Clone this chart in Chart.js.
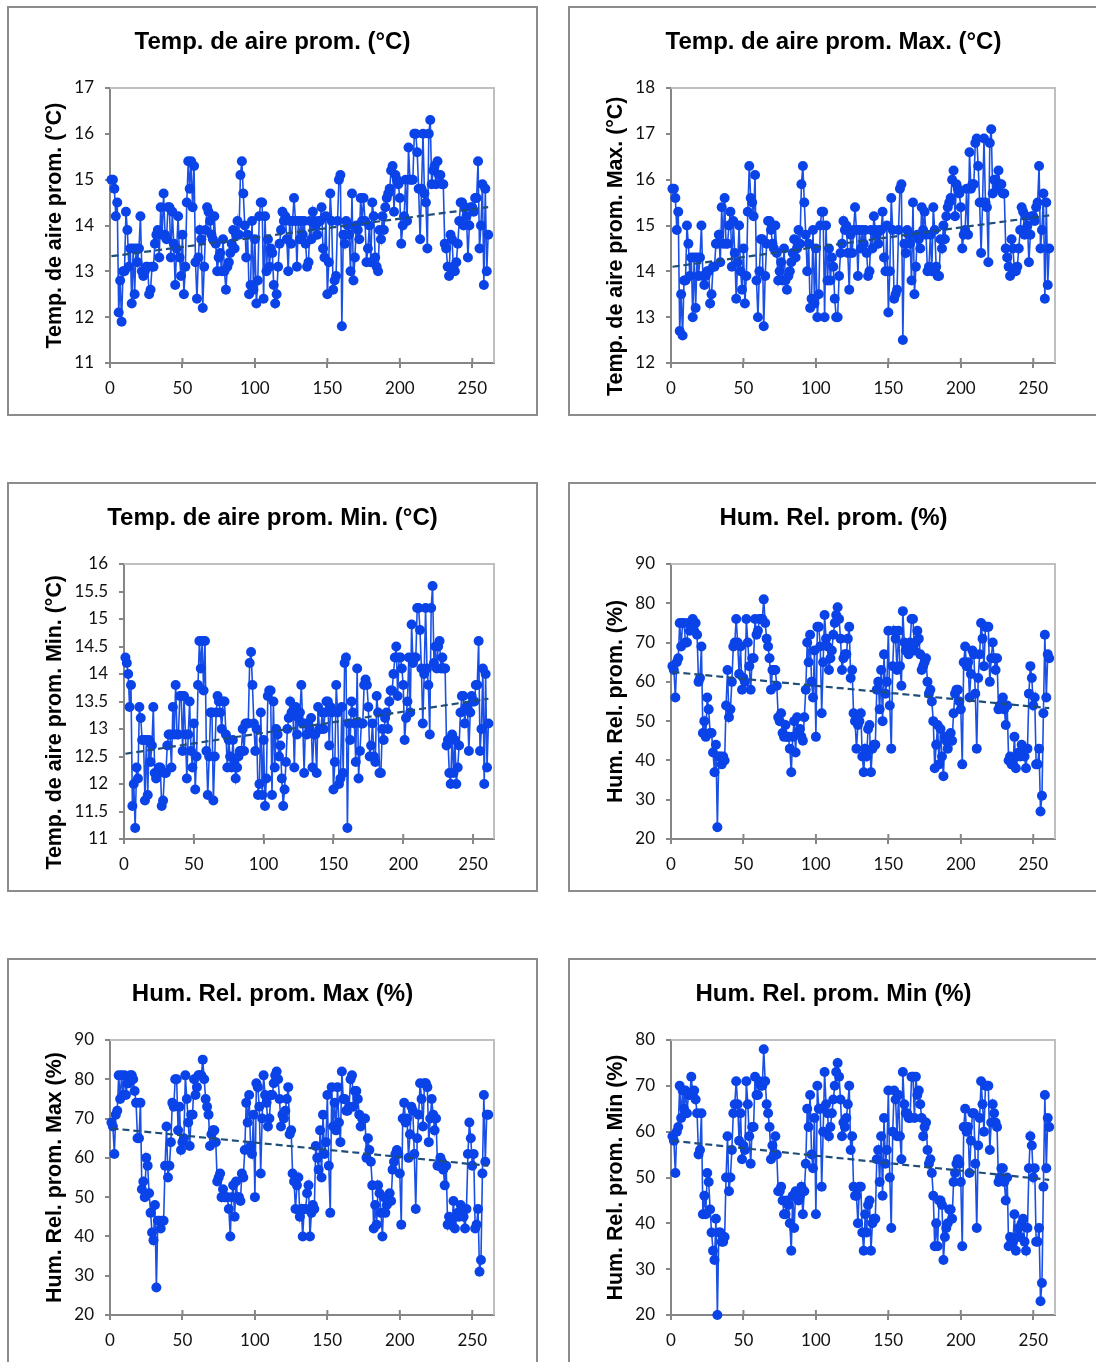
<!DOCTYPE html>
<html><head><meta charset="utf-8">
<style>
html,body{margin:0;padding:0;background:#fff;width:1096px;height:1362px;overflow:hidden}
.p{position:absolute;width:531px;height:410px;box-sizing:border-box;border:2px solid #8c8c8c;background:#fff}
.p canvas{position:absolute;left:-1px;top:-1px}
</style>
<script src="https://cdn.jsdelivr.net/npm/chart.js@4/dist/chart.umd.min.js"></script>
</head><body>
<div class="p" style="left:7px;top:6px"><canvas id="c0" width="529" height="408"></canvas></div>
<div class="p" style="left:568px;top:6px"><canvas id="c1" width="529" height="408"></canvas></div>
<div class="p" style="left:7px;top:482px"><canvas id="c2" width="529" height="408"></canvas></div>
<div class="p" style="left:568px;top:482px"><canvas id="c3" width="529" height="408"></canvas></div>
<div class="p" style="left:7px;top:958px"><canvas id="c4" width="529" height="408"></canvas></div>
<div class="p" style="left:568px;top:958px"><canvas id="c5" width="529" height="408"></canvas></div>
<script>
const tempMean=[15.0,15.0,14.8,14.2,14.5,12.1,12.8,11.9,13.0,13.0,
14.3,13.9,13.1,13.5,12.3,13.5,12.5,13.5,13.2,13.5,
14.2,13.0,12.9,13.0,13.1,13.1,12.5,12.6,13.1,13.1,
13.6,13.8,13.9,13.3,14.4,13.8,14.7,13.8,13.7,14.4,
14.4,13.3,14.3,13.6,12.7,13.5,14.2,13.3,12.9,13.8,
12.5,13.1,14.5,15.4,14.8,15.4,14.4,15.3,13.2,12.4,
13.3,13.9,13.7,12.2,13.1,13.9,14.4,14.3,14.1,13.8,
13.7,14.2,13.6,13.0,13.3,13.4,13.0,13.7,13.0,12.6,
13.1,13.2,13.4,13.6,13.9,13.5,13.8,14.1,13.8,15.1,
15.4,14.7,14.0,13.3,13.8,12.5,12.7,14.1,12.6,13.7,
12.3,12.8,14.2,14.5,14.5,12.4,14.2,13.0,13.7,13.1,
13.5,13.4,12.7,12.3,12.5,13.1,13.6,13.9,14.3,14.1,
14.2,13.7,13.0,14.1,13.6,14.1,14.6,14.1,13.1,14.1,
13.7,14.1,13.8,14.1,13.6,13.1,13.2,14.1,13.7,14.3,
14.1,14.0,13.8,14.1,14.1,14.4,13.5,13.3,14.2,12.5,
13.2,14.7,14.1,12.6,12.8,12.9,14.1,15.0,15.1,11.8,
13.8,13.6,14.1,14.0,13.8,13.0,14.7,12.8,13.3,14.0,
13.9,13.7,14.6,14.1,14.6,14.1,13.2,13.5,14.0,13.2,
14.5,14.2,13.3,13.1,13.0,13.9,13.7,14.2,13.9,14.4,
14.6,14.7,14.8,15.2,15.3,14.3,15.1,15.0,14.9,14.6,
13.6,14.0,14.2,15.0,14.1,15.7,15.0,15.0,15.0,16.0,
16.0,15.6,14.8,13.7,14.8,16.0,14.7,14.5,13.5,16.0,
16.3,14.9,15.2,15.3,14.9,15.4,15.1,15.1,14.9,14.9,
13.6,13.5,13.1,12.9,13.8,13.7,13.1,13.0,13.2,13.6,
14.1,14.5,14.5,14.0,14.4,14.2,13.3,14.0,14.4,14.4,
14.3,14.6,14.6,15.4,13.5,14.0,14.9,12.7,14.8,13.0,13.8];
const tempMax=[15.8,15.8,15.6,14.9,15.3,12.7,13.5,12.6,13.8,13.8,
15.0,14.6,13.9,14.3,13.0,14.3,13.2,14.3,13.9,14.3,
15.0,13.9,13.7,13.9,14.0,14.0,13.3,13.5,14.1,14.1,
14.6,14.6,14.8,14.2,15.4,14.6,15.6,14.6,14.6,15.0,
15.3,14.1,15.1,14.4,13.4,14.2,15.0,14.0,13.6,14.5,
13.3,13.9,15.3,16.3,15.6,15.5,15.2,16.1,13.8,13.0,
14.0,14.7,14.7,12.8,13.9,14.6,15.1,15.1,14.9,14.6,
14.5,15.0,14.4,13.8,14.0,14.2,13.8,14.5,13.8,13.6,
13.9,14.0,14.2,14.4,14.7,14.3,14.5,14.9,14.6,15.9,
16.3,15.5,14.8,14.0,14.6,13.2,13.4,14.9,13.3,14.5,
13.0,13.5,15.0,15.3,15.3,13.0,15.0,13.8,14.5,13.8,
14.3,14.1,13.4,13.0,13.0,13.9,14.4,14.6,15.1,14.9,
15.0,14.4,13.6,14.8,14.4,14.9,15.4,14.9,13.9,14.9,
14.5,14.9,14.6,14.9,14.4,13.9,14.0,14.9,14.5,15.2,
14.9,14.8,14.6,14.9,14.9,15.3,14.3,14.0,15.0,13.1,
14.0,15.6,14.9,13.4,13.5,13.6,14.9,15.8,15.9,12.5,
14.6,14.4,14.9,14.8,14.6,13.8,15.5,13.5,14.1,14.8,
14.7,14.5,15.4,14.9,15.3,14.8,14.0,14.1,14.8,14.0,
15.4,14.9,14.1,13.9,13.9,14.7,14.5,15.0,14.7,15.2,
15.4,15.5,15.6,16.0,16.2,15.2,15.9,15.8,15.7,15.4,
14.5,14.8,14.9,15.8,14.8,16.6,15.8,15.9,15.9,16.8,
16.9,16.3,15.5,14.4,15.5,16.9,15.5,15.4,14.2,16.8,
17.1,15.7,16.0,16.0,15.8,16.2,15.9,15.9,15.7,15.7,
14.5,14.3,14.1,13.9,14.7,14.5,14.0,14.0,14.1,14.5,
14.9,15.4,15.3,14.8,15.2,15.0,14.2,14.8,15.2,15.2,
15.1,15.4,15.5,16.3,14.5,14.9,15.7,13.4,15.5,13.7,14.5];
const tempMin=[14.3,14.2,14.0,13.4,13.8,11.6,12.0,11.2,12.3,12.1,
13.4,13.2,12.8,12.8,11.7,12.8,11.8,12.8,12.4,12.7,
13.4,12.2,12.1,12.2,12.3,12.3,11.6,11.7,12.2,12.2,
12.7,12.9,12.9,12.3,13.4,12.9,13.8,12.9,12.9,13.6,
13.6,12.6,13.6,12.9,12.1,12.9,13.5,12.6,12.3,13.1,
11.9,12.5,13.8,14.6,14.1,14.6,13.7,14.6,12.6,11.8,
12.5,13.3,13.3,11.7,12.5,13.3,13.6,13.5,13.3,13.0,
13.5,13.5,12.9,12.3,12.8,12.5,12.3,12.8,12.4,12.1,
12.3,12.5,12.6,12.6,13.0,12.6,13.1,13.1,13.1,14.2,
14.4,13.8,13.1,12.6,13.0,11.8,12.0,13.3,11.8,12.8,
11.6,12.1,13.6,13.7,13.7,11.8,13.5,12.3,13.0,12.9,
12.5,12.7,12.1,11.6,11.9,12.4,13.0,13.2,13.5,13.3,
13.3,12.3,13.4,12.9,13.2,13.3,13.8,13.1,12.2,13.1,
12.9,13.1,13.0,13.2,12.3,12.9,12.9,12.2,13.4,13.0,
13.0,13.3,13.0,13.3,13.5,13.5,12.7,13.4,13.3,11.9,
12.4,13.8,13.3,12.0,12.1,13.4,12.2,14.2,14.3,11.2,
13.1,12.8,13.5,13.3,13.1,12.4,14.1,12.1,12.6,13.1,
13.1,13.8,13.9,13.8,13.4,12.5,12.7,13.1,12.5,12.4,
13.6,13.3,12.2,12.2,13.0,12.8,13.2,13.3,13.0,13.5,
13.7,13.7,14.0,14.3,14.5,13.6,14.3,14.3,14.1,13.8,
12.8,13.2,13.5,14.3,13.3,14.9,14.2,14.3,14.3,15.2,
15.2,14.8,14.1,13.1,14.0,15.2,14.1,13.8,12.9,15.2,
15.6,14.2,14.5,14.1,14.5,14.6,14.1,14.3,14.1,14.1,
12.7,12.8,12.2,12.0,12.9,12.2,12.8,12.0,12.3,12.7,
13.3,13.6,13.6,13.1,13.4,13.4,12.6,13.3,13.6,13.5,
13.5,13.8,13.8,14.6,12.6,13.0,14.1,12.0,14.0,12.3,13.1];
const humMean=[64,63,56,65,66,75,69,75,75,70,
70,75,73,75,76,73,75,72,60,61,
69,47,50,46,56,53,47,47,42,37,
44,23,41,41,39,41,40,54,63,51,
53,60,69,70,76,70,62,69,58,61,
60,76,70,64,58,66,66,76,72,73,
76,76,76,81,75,71,69,66,58,63,
63,63,59,51,50,52,47,46,49,46,
46,43,37,46,50,42,51,47,48,46,
45,51,58,70,65,72,60,56,68,46,
74,74,69,52,65,77,71,69,63,66,
68,72,75,77,79,76,71,63,66,67,
67,71,74,61,63,52,50,43,49,50,
52,41,37,43,41,48,49,37,43,44,
44,58,60,53,63,50,67,57,60,73,
54,43,64,73,71,63,73,64,59,78,
70,68,68,67,70,76,76,68,70,73,
71,67,63,64,65,66,60,57,58,55,
50,38,44,49,39,48,41,36,46,45,
43,45,47,45,52,57,58,58,55,53,
39,65,69,64,65,56,62,68,67,57,
43,61,67,75,71,64,74,74,74,60,
66,70,66,63,66,53,54,54,56,53,
49,54,40,41,39,39,46,38,41,42,
41,44,42,41,38,43,57,64,61,54,
56,39,39,43,27,31,52,72,56,67,66];
const humMax=[69,68,61,71,72,81,75,81,76,81,
76,79,79,81,81,80,77,74,65,65,
74,52,54,50,60,58,51,46,41,39,
48,27,44,44,42,44,44,58,68,55,
58,64,74,73,80,80,67,73,62,64,
65,81,75,69,63,71,71,80,76,78,
81,81,81,85,80,75,73,71,63,66,
67,67,64,54,55,56,50,52,50,50,
50,47,40,50,53,45,54,50,50,49,
56,55,62,74,69,76,63,61,71,50,
79,78,73,56,70,81,76,74,68,70,
76,76,79,81,82,80,75,68,71,70,
72,75,78,66,67,56,54,47,53,55,
45,47,40,47,47,51,53,40,46,48,
47,63,60,57,67,55,71,61,64,76,
58,46,78,68,74,67,78,69,64,82,
75,75,72,72,73,80,81,73,77,77,
75,71,68,70,70,70,60,65,62,59,
53,42,48,43,53,51,46,40,50,46,
48,49,51,49,57,59,61,62,61,56,
43,70,74,69,70,60,66,73,72,61,
47,65,71,79,75,68,79,79,78,64,
70,75,71,67,70,58,58,60,59,57,
53,58,43,45,43,43,49,42,45,46,
45,48,46,45,42,47,61,69,65,58,
61,42,43,47,31,34,56,76,59,71,71];
const humMin=[59,58,51,60,61,70,63,69,65,69,
64,68,68,72,68,69,67,64,55,56,
64,42,46,42,51,49,43,38,34,32,
41,20,38,38,36,36,37,50,59,47,
50,56,64,66,71,66,58,64,54,57,
56,71,66,59,53,61,61,72,68,68,
71,70,70,78,71,66,64,61,54,57,
55,59,55,47,47,48,45,42,42,45,
44,40,34,46,39,47,46,45,46,48,
42,47,53,65,61,68,55,52,63,42,
70,65,65,48,60,73,66,64,59,61,
64,67,70,73,75,72,67,59,62,61,
63,66,70,56,59,48,46,46,40,48,
48,38,34,42,38,44,45,34,40,41,
41,54,56,49,59,46,63,53,56,69,
50,39,60,69,67,59,68,59,54,73,
66,64,64,63,63,72,72,63,72,68,
69,66,63,59,61,62,56,53,54,51,
46,35,40,35,45,45,44,32,37,39,
40,43,43,41,49,51,53,54,53,49,
35,61,65,60,61,51,58,64,64,53,
39,57,63,71,66,60,70,70,70,56,
62,66,64,62,61,49,50,52,52,49,
45,50,35,37,36,36,42,34,37,39,
37,40,41,36,34,39,52,59,57,50,
52,36,36,39,23,27,48,68,52,63,61];

const panelTitles=["Temp. de aire prom. (°C)","Temp. de aire prom. Max. (°C)","Temp. de aire prom. Min. (°C)","Hum. Rel. prom. (%)","Hum. Rel. prom. Max (%)","Hum. Rel. prom. Min (%)"];
const axisTitles=["Temp. de aire prom. (°C)","Temp. de aire prom. Max. (°C)\u00a0\u00a0\u00a0\u00a0\u00a0\u00a0\u00a0","Temp. de aire prom. Min. (°C)\u00a0\u00a0\u00a0\u00a0\u00a0\u00a0\u00a0","Hum. Rel. prom. (%)","Hum. Rel. prom. Max (%)","Hum. Rel. prom. Min (%)"];
const seriesList=[tempMean,tempMax,tempMin,humMean,humMax,humMin];
const yMins=[11,12,11,20,20,20];
const yMaxs=[17,18,16,90,90,80];
const ySteps=[1,1,0.5,10,10,10];
const xMax=265;
const xStep=50;
const trendX=[1,261];
const trendStart=[13.33,14.1,12.55,62.5,67.5,58];
const trendEnd=[14.4,15.22,13.55,53.3,58,49.5];
const yAxisWidths=[102,102,116,102,102,102];

const frame={id:'frame',beforeDatasetsDraw(c){
  const a=c.chartArea,g=c.ctx;
  g.save();
  g.strokeStyle='#bfbfbf';g.lineWidth=2;
  g.beginPath();g.moveTo(a.left,a.top);g.lineTo(a.right,a.top);g.lineTo(a.right,a.bottom);g.stroke();
  g.strokeStyle='#868686';g.lineWidth=2;
  c.scales.x.ticks.forEach(t=>{const p=c.scales.x.getPixelForValue(t.value);
    g.beginPath();g.moveTo(p,a.bottom-5);g.lineTo(p,a.bottom);g.stroke();});
  g.restore();
}};
const tickFont={family:'Lato, Carlito, sans-serif',size:17};
const boldFont=s=>({family:'"Liberation Sans", Arial, sans-serif',size:s,weight:'bold'});
seriesList.forEach((vals,i)=>{
  const xs=vals.map((_,k)=>k+1);
  new Chart(document.getElementById('c'+i),{
    type:'scatter',
    plugins:[frame],
    data:{datasets:[
      {order:0,data:trendX.map((x,k)=>({x,y:k?trendEnd[i]:trendStart[i]})),showLine:true,pointRadius:0,
       borderColor:'#1f4e79',borderWidth:2.2,borderDash:[7,4],clip:false},
      {order:1,data:xs.map((x,k)=>({x,y:vals[k]})),showLine:true,pointRadius:5,pointHoverRadius:5,
       backgroundColor:'#0a43e8',pointBackgroundColor:'#0a43e8',pointBorderColor:'#0a43e8',pointBorderWidth:0,
       borderColor:'#1a50e6',borderWidth:1.6,clip:false}
    ]},
    options:{
      responsive:false,animation:false,devicePixelRatio:1,
      layout:{padding:0},
      plugins:{legend:{display:false},tooltip:{enabled:false},
        title:{display:true,text:panelTitles[i],color:'#000',font:boldFont(24),padding:{top:20.5,bottom:31.7}}},
      scales:{
        x:{type:'linear',min:0,max:xMax,
          afterFit(s){s.height=52;},
          border:{color:'#868686',width:2},
          grid:{drawOnChartArea:false,drawTicks:true,tickLength:5,color:'#868686',lineWidth:2},
          ticks:{stepSize:xStep,includeBounds:false,maxRotation:0,font:tickFont,color:'#111',padding:10,callback:v=>String(v)}},
        y:{min:yMins[i],max:yMaxs[i],
          afterFit(s){s.width=yAxisWidths[i];},
          border:{color:'#868686',width:2},
          grid:{drawOnChartArea:false,drawTicks:true,tickLength:5,color:'#868686',lineWidth:2},
          ticks:{stepSize:ySteps[i],font:tickFont,color:'#111',padding:11,callback:v=>String(v)},
          title:{display:true,text:axisTitles[i],color:'#000',font:boldFont(21.4),padding:{top:34,bottom:0}}},
        yRight:{position:'right',display:true,min:0,max:1,
          afterFit(s){s.width=43;},
          border:{display:false},grid:{display:false,drawTicks:false},ticks:{display:false}}
      }
    }
  });
});
</script>
</body></html>
